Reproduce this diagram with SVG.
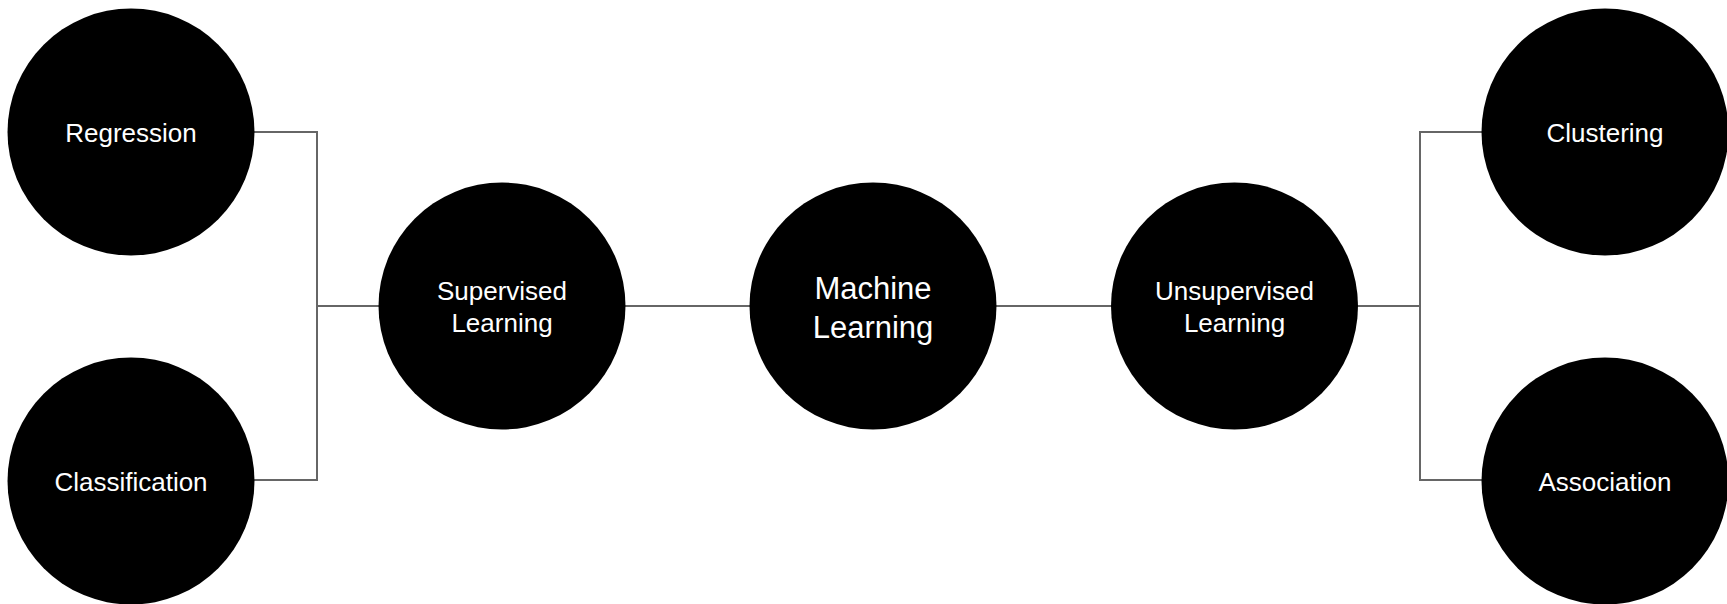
<svg xmlns="http://www.w3.org/2000/svg" width="1727" height="604" viewBox="0 0 1727 604">
<style>
.node{fill:#000}
.lbl{fill:#fff;font-family:"Liberation Sans",Arial,sans-serif;font-size:26px;text-anchor:middle}
.big{font-size:31px}
.conn{fill:none;stroke:#666;stroke-width:2}
</style>
<rect width="1727" height="604" fill="#fff"/>
<g id="connectors">
<polyline class="conn" points="254,132 317,132 317,480 254,480"/>
<line class="conn" x1="317" y1="306" x2="380" y2="306"/>
<line class="conn" x1="625" y1="306" x2="750" y2="306"/>
<line class="conn" x1="996" y1="306" x2="1112" y2="306"/>
<line class="conn" x1="1357" y1="306" x2="1420" y2="306"/>
<polyline class="conn" points="1483,132 1420,132 1420,480 1483,480"/>
</g>
<g id="regression"><circle class="node" cx="131" cy="132" r="123.5"/><text class="lbl" x="131" y="142">Regression</text></g>
<g id="classification"><circle class="node" cx="131" cy="481" r="123.5"/><text class="lbl" x="131" y="491">Classification</text></g>
<g id="supervised"><circle class="node" cx="502" cy="306" r="123.5"/><text class="lbl" x="502" y="299.5">Supervised</text><text class="lbl" x="502" y="332">Learning</text></g>
<g id="machine-learning"><circle class="node" cx="873" cy="306" r="123.5"/><text class="lbl big" x="873" y="299">Machine</text><text class="lbl big" x="873" y="338">Learning</text></g>
<g id="unsupervised"><circle class="node" cx="1234.5" cy="306" r="123.5"/><text class="lbl" x="1234.5" y="299.5">Unsupervised</text><text class="lbl" x="1234.5" y="332">Learning</text></g>
<g id="clustering"><circle class="node" cx="1605" cy="132" r="123.5"/><text class="lbl" x="1605" y="142">Clustering</text></g>
<g id="association"><circle class="node" cx="1605" cy="481" r="123.5"/><text class="lbl" x="1605" y="491">Association</text></g>
</svg>
